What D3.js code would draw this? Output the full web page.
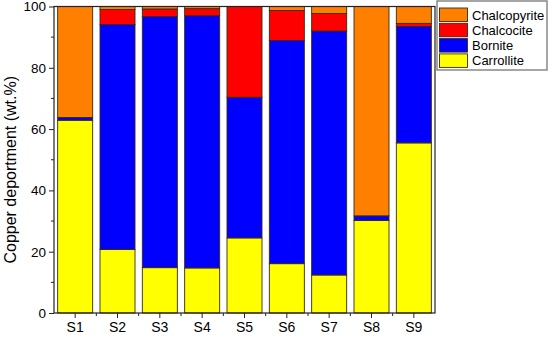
<!DOCTYPE html>
<html><head><meta charset="utf-8">
<script src="https://cdn.jsdelivr.net/npm/d3@7"></script>
<style>body{margin:0;background:#fff}svg{display:block}text{font-family:Arial,"Liberation Sans",sans-serif;fill:#000}</style>
</head><body><svg id="c" width="550" height="339"></svg>
<script>
const categories = ["S1","S2","S3","S4","S5","S6","S7","S8","S9"];
const seriesNames = ["Carrollite","Bornite","Chalcocite","Chalcopyrite"];
const carrollite   = [62.9, 20.7, 14.8, 14.7, 24.5, 16.1, 12.4, 30.2, 55.5];
const bornite      = [0.9, 73.4, 81.9, 82.3, 45.9, 72.8, 79.6, 1.5, 38.0];
const chalcocite   = [0.0, 4.9, 2.5, 2.3, 29.6, 9.8, 5.7, 0.0, 1.0];
const chalcopyrite = [36.2, 1.0, 0.8, 0.7, 0.0, 1.3, 2.3, 68.3, 5.5];
const yTicks = [0,20,40,60,80,100];
const colors = {Carrollite:"#ffff00",Bornite:"#0000ff",Chalcocite:"#ff0000",Chalcopyrite:"#ff8000"};

const svg = d3.select("#c");
const L=54,R=435,T=6.5,B=313;
const x = d3.scaleBand().domain(categories).range([L,R]).paddingInner(0.173).paddingOuter(0.0865);
const y = d3.scaleLinear().domain([0,100]).range([B,T]);

const rows = categories.map((c,i)=>({cat:c,Carrollite:carrollite[i],Bornite:bornite[i],Chalcocite:chalcocite[i],Chalcopyrite:chalcopyrite[i]}));
const stacked = d3.stack().keys(seriesNames)(rows);

svg.append("g").selectAll("g").data(stacked).join("g")
  .attr("fill",d=>colors[d.key])
  .selectAll("rect").data(d=>d.filter(p=>p[1]-p[0]>0)).join("rect")
  .attr("x",d=>x(d.data.cat)).attr("width",x.bandwidth())
  .attr("y",d=>y(d[1])).attr("height",d=>y(d[0])-y(d[1]))
  .attr("stroke","#3a2a10").attr("stroke-width",0.9);

// frame
svg.append("rect").attr("x",L).attr("y",T).attr("width",R-L).attr("height",B-T)
  .attr("fill","none").attr("stroke","#222").attr("stroke-width",1.2);

// y axis
const ya = svg.append("g").attr("transform",`translate(${L},0)`)
  .call(d3.axisLeft(y).tickValues(yTicks).tickSize(5).tickPadding(3).tickFormat(d3.format("d")));
ya.select(".domain").remove();
ya.selectAll("text").attr("font-size",13.5);
ya.selectAll("line").attr("stroke","#222");
const minorY = d3.range(10,100,20);
svg.append("g").selectAll("line").data(minorY).join("line")
  .attr("x1",L-3).attr("x2",L).attr("y1",d=>y(d)).attr("y2",d=>y(d)).attr("stroke","#222");

// x axis
const xa = svg.append("g").attr("transform",`translate(0,${B})`)
  .call(d3.axisBottom(x).tickSize(5).tickPadding(4));
xa.select(".domain").remove();
xa.selectAll("text").attr("font-size",14);
xa.selectAll("line").attr("stroke","#222");
const step = x.step();
const minorX = categories.slice(0,-1).map(c=>x(c)+x.bandwidth()+ (step-x.bandwidth())/2);
svg.append("g").selectAll("line").data(minorX).join("line")
  .attr("x1",d=>d).attr("x2",d=>d).attr("y1",B).attr("y2",B+3).attr("stroke","#222");

// y label
svg.append("text").attr("transform",`translate(16,${(T+B)/2 + 10}) rotate(-90)`)
  .attr("text-anchor","middle").attr("font-size",16).text("Copper deportment (wt.%)");

// legend
const lg = svg.append("g");
lg.append("rect").attr("x",437).attr("y",1).attr("width",110).attr("height",69)
  .attr("fill","#fff").attr("stroke","#888").attr("stroke-width",1.5);
const legOrder = ["Chalcopyrite","Chalcocite","Bornite","Carrollite"];
legOrder.forEach((k,i)=>{
  const yy = 8 + i*15.3;
  lg.append("rect").attr("x",439.5).attr("y",yy).attr("width",28).attr("height",13.5)
    .attr("fill",colors[k]).attr("stroke","#3a2a10").attr("stroke-width",0.9);
  lg.append("text").attr("x",472).attr("y",yy+11.5).attr("font-size",13).text(k);
});
</script></body></html>
